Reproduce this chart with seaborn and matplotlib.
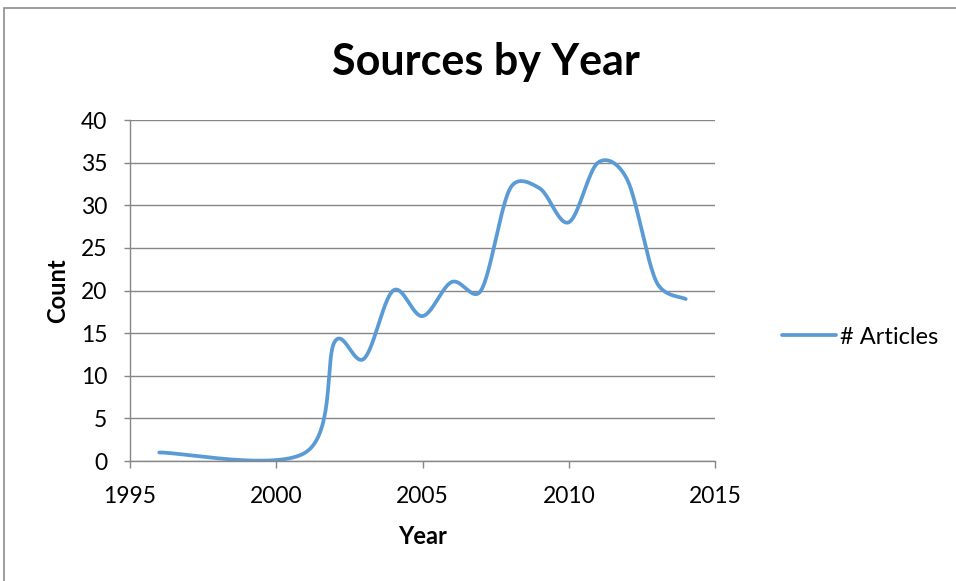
import numpy as np
import pandas as pd
import matplotlib
matplotlib.use("Agg")
import matplotlib.pyplot as plt
from matplotlib.patches import Rectangle
import seaborn as sns

# Articles counted per publication year
years = [1996, 2001, 2002, 2003, 2004, 2005, 2006, 2007, 2008,
         2009, 2010, 2011, 2012, 2013, 2014]
articles = [1, 1, 14, 12, 20, 17, 21, 20, 32, 32, 28, 35, 33, 21, 19]
series_name = "# Articles"

x_ticks = [1995, 2000, 2005, 2010, 2015]
y_ticks = [0, 5, 10, 15, 20, 25, 30, 35, 40]

W, H = 956, 581
AX_LEFT, AX_RIGHT, AX_TOP, AX_BOTTOM = 130, 715, 120, 461
X_RANGE, Y_RANGE = (1995, 2015), (0, 40)


def smooth_curve(xs, ys, steps=60):
    """Cubic Bezier smoothing through every point (spreadsheet-style smoothed
    line); control arms are 1/6 of the neighbour chord, capped at half the
    segment length measured on screen."""
    kx = (AX_RIGHT - AX_LEFT) / (X_RANGE[1] - X_RANGE[0])
    ky = (AX_BOTTOM - AX_TOP) / (Y_RANGE[1] - Y_RANGE[0])
    pts = np.column_stack([np.asarray(xs, float) * kx, np.asarray(ys, float) * ky])
    n = len(pts)
    out = []
    for i in range(n - 1):
        p0 = pts[max(i - 1, 0)]
        p1 = pts[i]
        p2 = pts[i + 1]
        p3 = pts[min(i + 2, n - 1)]
        half = np.linalg.norm(p2 - p1) / 2.0
        a1 = (p2 - p0) / 6.0
        a2 = (p3 - p1) / 6.0
        if np.linalg.norm(a1) > half:
            a1 = a1 / np.linalg.norm(a1) * half
        if np.linalg.norm(a2) > half:
            a2 = a2 / np.linalg.norm(a2) * half
        c1 = p1 + a1
        c2 = p2 - a2
        t = np.linspace(0, 1, steps, endpoint=(i == n - 2))[:, None]
        seg = ((1 - t) ** 3) * p1 + 3 * ((1 - t) ** 2) * t * c1 \
            + 3 * (1 - t) * t ** 2 * c2 + t ** 3 * p2
        out.append(seg)
    out = np.vstack(out)
    return out[:, 0] / kx, out[:, 1] / ky


sx, sy = smooth_curve(years, articles)
curve = pd.DataFrame({"Year": sx, "Count": sy, "series": series_name})

sns.set_theme(style="white")
plt.rcParams["font.family"] = ["Lato", "DejaVu Sans"]
plt.rcParams["text.color"] = "black"
plt.rcParams["axes.labelcolor"] = "black"

fig = plt.figure(figsize=(W / 100, H / 100), dpi=100)
fig.patch.set_facecolor("white")
ax = fig.add_axes([AX_LEFT / W, 1 - AX_BOTTOM / H,
                   (AX_RIGHT - AX_LEFT) / W, (AX_BOTTOM - AX_TOP) / H])

line_color = "#5B9BD5"
grid_color = "#868686"

sns.lineplot(data=curve, x="Year", y="Count", hue="series", sort=False,
             palette=[line_color], linewidth=2.7, ax=ax, legend=True)
for ln in ax.get_lines():
    ln.set_solid_capstyle("round")

ax.set_xlim(*X_RANGE)
ax.set_ylim(*Y_RANGE)
ax.set_xticks(x_ticks)
ax.set_yticks(y_ticks)
ax.yaxis.grid(True, color=grid_color, linewidth=1.0)
ax.set_axisbelow(True)
for side in ("top", "right"):
    ax.spines[side].set_visible(False)
for side in ("left", "bottom"):
    ax.spines[side].set_color(grid_color)
    ax.spines[side].set_linewidth(1.0)
ax.tick_params(axis="both", which="major", direction="out", width=1.0,
               color=grid_color, labelsize=16.5, labelcolor="black",
               left=True, bottom=True)
ax.tick_params(axis="x", length=5, pad=13)
ax.tick_params(axis="y", length=4.3, pad=12)

ax.set_xlabel("Year", fontsize=17, fontweight="bold", color="black", labelpad=13)
ax.set_ylabel("Count", fontsize=17, fontweight="bold", color="black", labelpad=8.5)

fig.text(485.5 / W, 1 - 75 / H, "Sources by Year", ha="center", va="baseline",
         fontsize=31, fontweight="bold", color="black")

handles, labels = ax.get_legend_handles_labels()
for h in handles:
    h.set_solid_capstyle("round")
ax.legend(handles, labels, loc="center left", frameon=False,
          bbox_to_anchor=(782 / W, 1 - 337 / H), bbox_transform=fig.transFigure,
          fontsize=17, handlelength=2.3, handletextpad=0.15, borderpad=0,
          borderaxespad=0)

# chart-area border
fig.add_artist(Rectangle((4 / W, -0.05), 1.1, 1 - 8 / H + 0.05,
                         transform=fig.transFigure, fill=False,
                         edgecolor="#8c8c8c", linewidth=1.2))

fig.savefig("out.png", dpi=100, facecolor="white")
